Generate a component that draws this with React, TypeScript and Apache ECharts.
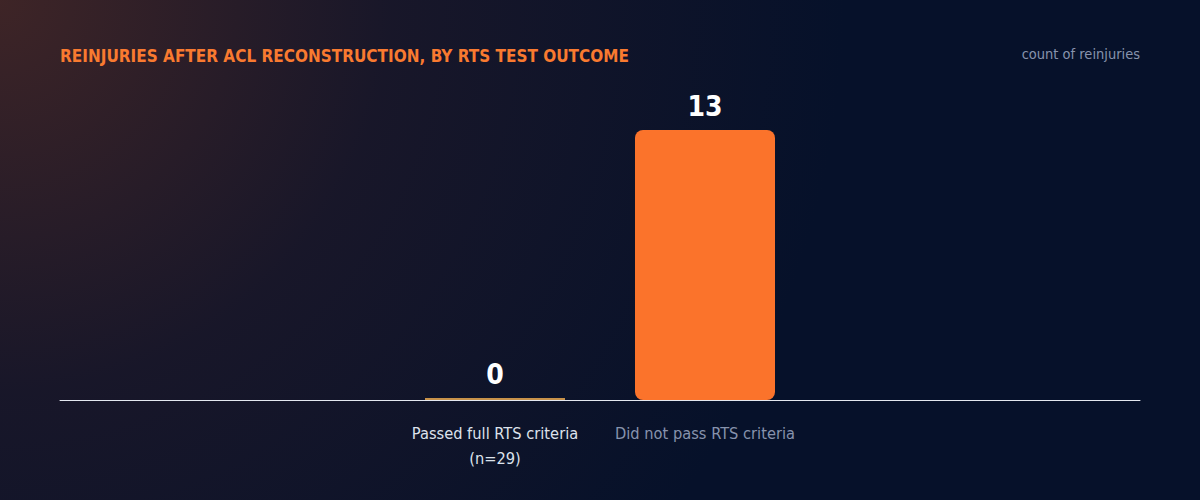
import React, { useEffect, useRef } from 'react';
import * as echarts from 'echarts';

type EChartsOption = echarts.EChartsOption;

const categories = ['Passed full RTS criteria\n(n=29)', 'Did not pass RTS criteria'];
const reinjuries = [0, 13];
const barColors = ['#c8924a', '#fb732b'];
const labelColors = ['#dde2ec', '#8793ad'];

const FONT = "'Liberation Sans Narrow', 'DejaVu Sans Condensed', Roboto, sans-serif";

const App: React.FC = () => {
  const chartRef = useRef<HTMLDivElement>(null);

  useEffect(() => {
    document.body.style.margin = '0';
    if (!chartRef.current) return;
    const chart = echarts.init(chartRef.current, null, { renderer: 'svg' });

    const option: EChartsOption = {
      animation: false,
      backgroundColor: 'transparent',
      textStyle: { fontFamily: FONT },
      title: [
        {
          text: 'REINJURIES AFTER ACL RECONSTRUCTION, BY RTS TEST OUTCOME',
          left: 55,
          top: 42,
          textStyle: { color: '#f97a30', fontSize: 17, fontWeight: 'bold', fontFamily: FONT }
        },
        {
          text: 'count of reinjuries',
          right: 55,
          top: 41,
          textStyle: { color: '#8793ad', fontSize: 14.5, fontWeight: 'normal', fontFamily: FONT }
        }
      ],
      grid: [
        { left: 390, right: 390, top: 130, bottom: 100 },
        { left: 60, right: 60, top: 130, bottom: 100 }
      ],
      xAxis: [
        {
          type: 'category',
          gridIndex: 0,
          data: categories.map((c, i) => ({ value: c, textStyle: { color: labelColors[i] } })),
          axisLine: { show: false },
          axisTick: { show: false },
          axisLabel: { fontSize: 16.3, lineHeight: 25, margin: 21, fontFamily: FONT, interval: 0 }
        },
        {
          type: 'category',
          gridIndex: 1,
          data: [''],
          axisLine: { lineStyle: { color: '#e4e8f0', width: 1 } },
          axisTick: { show: false },
          axisLabel: { show: false }
        }
      ],
      yAxis: [
        { type: 'value', gridIndex: 0, min: 0, max: 13, show: false },
        { type: 'value', gridIndex: 1, min: 0, max: 13, show: false }
      ],
      series: [
        {
          type: 'bar',
          xAxisIndex: 0,
          yAxisIndex: 0,
          barWidth: 140,
          barMinHeight: 2,
          z: 3,
          data: reinjuries.map((v, i) => ({
            value: v,
            itemStyle: { color: barColors[i], borderRadius: v > 0 ? 8 : 0 }
          })),
          label: {
            show: true,
            position: 'top',
            distance: 10,
            color: '#ffffff',
            fontSize: 28,
            fontWeight: 'bold',
            fontFamily: FONT
          }
        }
      ]
    };

    chart.setOption(option);
    return () => chart.dispose();
  }, []);

  return (
    <div
      style={{
        width: 1200,
        height: 500,
        background:
          'radial-gradient(circle at 0 0, rgba(72,40,38,0.85) 0%, rgba(42,28,40,0.5) 30%, rgba(6,17,42,0) 65%), #06112a'
      }}
    >
      <div ref={chartRef} style={{ width: 1200, height: 500 }} />
    </div>
  );
};

export default App;
